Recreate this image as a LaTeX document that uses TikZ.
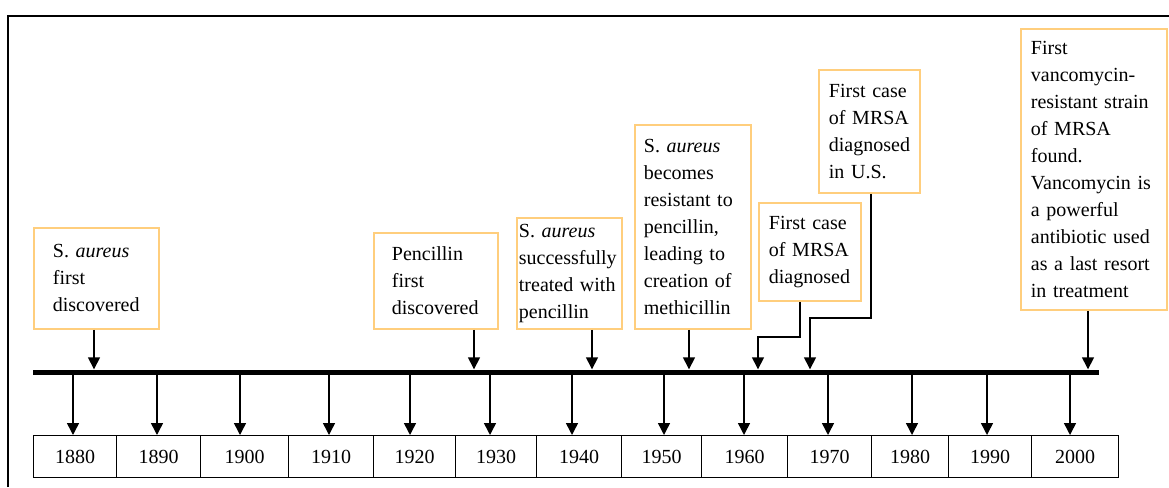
\documentclass[tikz,border=0pt]{standalone}
\usepackage{fontspec}
\setmainfont{Liberation Serif}
\usetikzlibrary{arrows.meta}
\definecolor{boxorange}{RGB}{255,206,125}
\begin{document}
\begin{tikzpicture}[x=1pt,y=-1pt,
  event/.style={draw=boxorange, line width=1.8pt, rectangle, anchor=north west,
    align=left, inner ysep=0pt, font=\fontsize{20}{27}\selectfont},
  yearbox/.style={draw=black, line width=1.2pt, rectangle, anchor=north west,
    minimum height=42pt, inner sep=0pt, font=\fontsize{20}{24}\selectfont},
  arr/.style={line width=1.5pt, -{Triangle[length=12pt,width=12pt]}},
  frameline/.style={line width=2.5pt}
]
\useasboundingbox (0,0) rectangle (1169,487);
% outer frame
\draw[frameline] (8,487) -- (8,16) -- (1169,16);
% timeline bar
\node[fill=black, minimum width=1066pt, minimum height=5pt, inner sep=0pt, anchor=west] (bar) at (33,372) {};

% event boxes
\node[event, inner xsep=19pt, text width=87pt, minimum width=125pt, minimum height=101pt] (e1) at (33,227)
  {S. \textit{aureus}\\first\\discovered};
\node[event, inner xsep=18pt, text width=88pt, minimum width=124pt, minimum height=96pt] (e2) at (373,232)
  {Pencillin\\first\\discovered};
\node[event, inner xsep=2pt, text width=101pt, minimum width=105pt, minimum height=111pt] (e3) at (516,217)
  {S. \textit{aureus}\\successfully\\treated with\\pencillin};
\node[event, inner xsep=9pt, text width=98pt, minimum width=116pt, minimum height=204pt] (e4) at (634,124)
  {S. \textit{aureus}\\becomes\\resistant to\\pencillin,\\leading to\\creation of\\methicillin};
\node[event, inner xsep=10pt, text width=82pt, minimum width=102pt, minimum height=98pt] (e5) at (758,202)
  {First case\\of MRSA\\diagnosed};
\node[event, inner xsep=10pt, text width=81pt, minimum width=101pt, minimum height=123pt] (e6) at (818,69)
  {First case\\of MRSA\\diagnosed\\in U.S.};
\node[event, inner xsep=10pt, text width=126pt, minimum width=146pt, minimum height=281pt] (e7) at (1020,28)
  {First\\vancomycin-\\resistant strain\\of MRSA\\found.\\Vancomycin is\\a powerful\\antibiotic used\\as a last resort\\in treatment};

% connector positions
\coordinate (c1) at (94,0);
\coordinate (c2) at (474,0);
\coordinate (c3) at (592,0);
\coordinate (c4) at (689,0);
\coordinate (c5) at (800,0);
\coordinate (k5) at (758,337);
\coordinate (c6) at (871,0);
\coordinate (k6) at (810,318);
\coordinate (c7) at (1088,0);

\draw[arr] (c1 |- e1.south) -- (c1 |- bar.north);
\draw[arr] (c2 |- e2.south) -- (c2 |- bar.north);
\draw[arr] (c3 |- e3.south) -- (c3 |- bar.north);
\draw[arr] (c4 |- e4.south) -- (c4 |- bar.north);
\draw[arr] (c5 |- e5.south) |- (k5) -- (k5 |- bar.north);
\draw[arr] (c6 |- e6.south) |- (k6) -- (k6 |- bar.north);
\draw[arr] (c7 |- e7.south) -- (c7 |- bar.north);

% year boxes and ticks
\foreach \yr/\xa/\w/\tx in {1880/33/83/73, 1890/116/84/157, 1900/200/88/240,
  1910/288/85/329, 1920/373/82/410, 1930/455/81/490, 1940/536/85/572,
  1950/621/80/664, 1960/701/86/744, 1970/787/84/828, 1980/871/77/912,
  1990/948/83/987, 2000/1031/87/1070}{
  \node[yearbox, minimum width=\w pt] (y\yr) at (\xa,435) {\yr};
  \coordinate (t\yr) at (\tx,0);
  \draw[arr] (t\yr |- bar.south) -- (t\yr |- y\yr.north);
}
\end{tikzpicture}
\end{document}
